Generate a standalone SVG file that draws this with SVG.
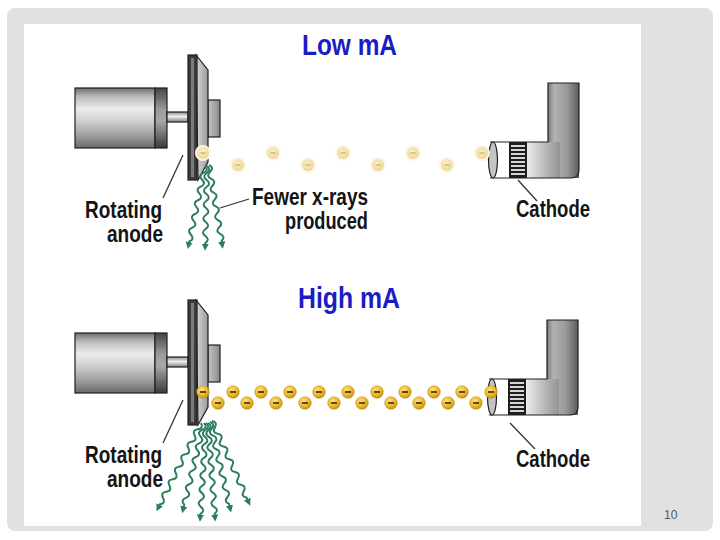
<svg xmlns="http://www.w3.org/2000/svg" xmlns:xlink="http://www.w3.org/1999/xlink" width="720" height="540" viewBox="0 0 720 540">
  <style>
    .lbl { font-family: "Liberation Sans", Arial, sans-serif; font-weight: bold; font-size: 23px; fill: #141414; }
    .ttl { font-family: "Liberation Sans", Arial, sans-serif; font-weight: bold; font-size: 30px; fill: #1c1cc4; }
    .pg { font-family: "Liberation Sans", Arial, sans-serif; font-size: 12px; fill: #555555; }
    .ptr { stroke: #333333; stroke-width: 1.3; fill: none; }
    .wave { stroke: #2b7d5e; stroke-width: 2; fill: none; marker-end: url(#ah); }
    .ol { stroke: #1e1e1e; stroke-width: 1.2; }
  </style>
  <defs>
    <linearGradient id="gMotor" x1="0" y1="0" x2="0" y2="1">
      <stop offset="0" stop-color="#6e6e6e"/>
      <stop offset="0.15" stop-color="#bdbdbd"/>
      <stop offset="0.35" stop-color="#ececec"/>
      <stop offset="0.55" stop-color="#cfcfcf"/>
      <stop offset="0.8" stop-color="#9c9c9c"/>
      <stop offset="1" stop-color="#6a6a6a"/>
    </linearGradient>
    <linearGradient id="gRing" x1="0" y1="0" x2="0" y2="1">
      <stop offset="0" stop-color="#444"/>
      <stop offset="0.35" stop-color="#9a9a9a"/>
      <stop offset="0.55" stop-color="#a8a8a8"/>
      <stop offset="1" stop-color="#3a3a3a"/>
    </linearGradient>
    <linearGradient id="gShaft" x1="0" y1="0" x2="0" y2="1">
      <stop offset="0" stop-color="#8a8a8a"/>
      <stop offset="0.45" stop-color="#eeeeee"/>
      <stop offset="1" stop-color="#808080"/>
    </linearGradient>
    <linearGradient id="gBevel" x1="0" y1="0" x2="1" y2="0">
      <stop offset="0" stop-color="#d8d8d8"/>
      <stop offset="1" stop-color="#9a9a9a"/>
    </linearGradient>
    <linearGradient id="gHub" x1="0" y1="0" x2="1" y2="0">
      <stop offset="0" stop-color="#c4c4c4"/>
      <stop offset="1" stop-color="#8a8a8a"/>
    </linearGradient>
    <linearGradient id="gArm" gradientUnits="userSpaceOnUse" x1="548" y1="0" x2="579" y2="0">
      <stop offset="0" stop-color="#7c7c7c"/>
      <stop offset="0.2" stop-color="#b2b2b2"/>
      <stop offset="0.6" stop-color="#9a9a9a"/>
      <stop offset="1" stop-color="#5c5c5c"/>
    </linearGradient>
    <linearGradient id="gTube" gradientUnits="userSpaceOnUse" x1="527" y1="0" x2="579" y2="0">
      <stop offset="0" stop-color="#ececec"/>
      <stop offset="0.4" stop-color="#b2b2b2"/>
      <stop offset="0.7" stop-color="#8c8c8c"/>
      <stop offset="1" stop-color="#5c5c5c"/>
    </linearGradient>
    <radialGradient id="gGold" cx="0.4" cy="0.35" r="0.7">
      <stop offset="0" stop-color="#ffe27a"/>
      <stop offset="0.6" stop-color="#e9b62c"/>
      <stop offset="1" stop-color="#b98a10"/>
    </radialGradient>
    <radialGradient id="gPale" cx="0.45" cy="0.4" r="0.7">
      <stop offset="0" stop-color="#fbf1c8"/>
      <stop offset="1" stop-color="#e9d28e"/>
    </radialGradient>
    <marker id="ah" viewBox="0 0 10 10" refX="6" refY="5" markerWidth="3.6" markerHeight="3.6" orient="auto" markerUnits="strokeWidth">
      <path d="M0,0 L10,5 L0,10 Z" fill="#2b7d5e"/>
    </marker>
    <g id="eHi">
      <circle r="6.3" fill="url(#gGold)" stroke="#c99a1c" stroke-width="0.6"/>
      <line x1="-3" y1="0" x2="3" y2="0" stroke="#3a2a00" stroke-width="1.6"/>
    </g>
    <g id="eLo">
      <circle r="8" fill="#fdf6e2"/>
      <circle r="6" fill="url(#gPale)"/>
      <line x1="-2.5" y1="0" x2="2.5" y2="0" stroke="#b8a468" stroke-width="1.1"/>
    </g>
    <path id="w84" d="M0,0 q5,3.5 0,7 t0,7 t0,7 t0,7 t0,7 t0,7 t0,7 t0,7 t0,7 t0,7 t0,7 l0,5"/>
    <path id="w90" d="M0,0 q5,3.5 0,7 t0,7 t0,7 t0,7 t0,7 t0,7 t0,7 t0,7 t0,7 t0,7 t0,7 t0,7 l0,6"/>
    <path id="w96" d="M0,0 q5,3.5 0,7 t0,7 t0,7 t0,7 t0,7 t0,7 t0,7 t0,7 t0,7 t0,7 t0,7 t0,7 t0,7 l0,5"/>
    <g id="anodeAsm">
      <rect x="75" y="88" width="80" height="60" fill="url(#gMotor)" class="ol"/>
      <rect x="155" y="88" width="12" height="60" fill="url(#gRing)" class="ol"/>
      <rect x="167" y="112" width="21" height="10" fill="url(#gShaft)" class="ol"/>
      <rect x="208" y="100" width="12" height="37" fill="url(#gHub)" class="ol"/>
      <polygon points="196,55 208,70 208,162 198,180" fill="url(#gBevel)" class="ol"/>
      <rect x="188" y="55" width="9" height="125" fill="#3c3c3c" class="ol"/>
      <rect x="191" y="58" width="3" height="119" fill="#7a7a7a"/>
    </g>
    <g id="cathodeAsm">
      <path d="M490,142 H548 V83 H579 V170 Q579,178 571,178 H490 Z" fill="url(#gArm)"/>
      <rect x="527" y="142" width="52" height="36" fill="url(#gTube)"/>
      <path d="M579,142 V170 Q579,178 571,178 H560 V142 Z" fill="url(#gArm)"/>
      <rect x="490" y="142" width="19" height="36" fill="#ffffff"/>
      <rect x="509" y="142" width="18" height="36" fill="#1e1e1e"/>
      <g fill="#d6d6d6">
        <rect x="511" y="145" width="14" height="2"/>
        <rect x="511" y="149" width="14" height="2"/>
        <rect x="511" y="153" width="14" height="2"/>
        <rect x="511" y="157" width="14" height="2"/>
        <rect x="511" y="161" width="14" height="2"/>
        <rect x="511" y="165" width="14" height="2"/>
        <rect x="511" y="169" width="14" height="2"/>
        <rect x="511" y="173" width="14" height="2"/>
      </g>
      <path d="M490,142 H548 V83 H579 V170 Q579,178 571,178 H490" fill="none" class="ol" stroke-width="1.5"/>
      <ellipse cx="493" cy="160" rx="4.5" ry="18" fill="#c4c4c4" class="ol"/>
    </g>
  </defs>

  <g id="frame">
    <rect x="0" y="0" width="720" height="540" fill="#ffffff"/>
    <rect x="7" y="8" width="706" height="523" rx="8" fill="#e1e1e1"/>
    <rect x="24" y="24" width="617" height="502" fill="#ffffff"/>
    <text class="pg" x="664" y="519">10</text>
  </g>

  <g id="low-mA">
    <text id="title-low" class="ttl" x="302" y="55" textLength="95" lengthAdjust="spacingAndGlyphs">Low mA</text>
    <g id="anode-low"><use xlink:href="#anodeAsm"/></g>
    <g id="cathode-low"><use xlink:href="#cathodeAsm"/></g>
    <g id="xrays-low">
      <use xlink:href="#w84" class="wave" transform="translate(205,166) rotate(11.7)"/>
      <use xlink:href="#w84" class="wave" transform="translate(207,166) rotate(1.3)"/>
      <use xlink:href="#w84" class="wave" transform="translate(209,165) rotate(-9.4)"/>
    </g>
    <g id="electrons-low">
      <use xlink:href="#eLo" x="203" y="153"/>
      <use xlink:href="#eLo" x="238" y="165"/>
      <use xlink:href="#eLo" x="273" y="153"/>
      <use xlink:href="#eLo" x="308" y="165"/>
      <use xlink:href="#eLo" x="343" y="153"/>
      <use xlink:href="#eLo" x="378" y="165"/>
      <use xlink:href="#eLo" x="413" y="153"/>
      <use xlink:href="#eLo" x="447" y="165"/>
      <use xlink:href="#eLo" x="482" y="153"/>
    </g>
    <g id="label-anode-low">
      <text class="lbl" x="85" y="218" textLength="77" lengthAdjust="spacingAndGlyphs">Rotating</text>
      <text class="lbl" x="107" y="242" textLength="56" lengthAdjust="spacingAndGlyphs">anode</text>
    </g>
    <g id="label-fewer">
      <text class="lbl" x="252" y="205" textLength="116" lengthAdjust="spacingAndGlyphs">Fewer x-rays</text>
      <text class="lbl" x="285" y="229" textLength="83" lengthAdjust="spacingAndGlyphs">produced</text>
    </g>
    <g id="label-cathode-low">
      <text class="lbl" x="516" y="217" textLength="74" lengthAdjust="spacingAndGlyphs">Cathode</text>
    </g>
  </g>

  <g id="high-mA">
    <text id="title-high" class="ttl" x="298" y="308" textLength="102" lengthAdjust="spacingAndGlyphs">High mA</text>
    <g id="anode-high"><use xlink:href="#anodeAsm" transform="translate(0,245)"/></g>
    <g id="cathode-high"><use xlink:href="#cathodeAsm" transform="translate(-1,237)"/></g>
    <g id="xrays-high">
      <use xlink:href="#w96" class="wave" transform="translate(201,423) rotate(26.8)"/>
      <use xlink:href="#w90" class="wave" transform="translate(204,423) rotate(13.6)"/>
      <use xlink:href="#w96" class="wave" transform="translate(206,423) rotate(3.5)"/>
      <use xlink:href="#w96" class="wave" transform="translate(208,423) rotate(-4.2)"/>
      <use xlink:href="#w90" class="wave" transform="translate(210,422) rotate(-13.1)"/>
      <use xlink:href="#w90" class="wave" transform="translate(212,421) rotate(-24.3)"/>
    </g>
    <g id="electrons-high">
      <use xlink:href="#eHi" x="203" y="392"/>
      <use xlink:href="#eHi" x="218" y="403"/>
      <use xlink:href="#eHi" x="233" y="392"/>
      <use xlink:href="#eHi" x="247" y="403"/>
      <use xlink:href="#eHi" x="261" y="392"/>
      <use xlink:href="#eHi" x="276" y="403"/>
      <use xlink:href="#eHi" x="290" y="392"/>
      <use xlink:href="#eHi" x="305" y="403"/>
      <use xlink:href="#eHi" x="319" y="392"/>
      <use xlink:href="#eHi" x="334" y="403"/>
      <use xlink:href="#eHi" x="348" y="392"/>
      <use xlink:href="#eHi" x="362" y="403"/>
      <use xlink:href="#eHi" x="377" y="392"/>
      <use xlink:href="#eHi" x="391" y="403"/>
      <use xlink:href="#eHi" x="405" y="392"/>
      <use xlink:href="#eHi" x="419" y="403"/>
      <use xlink:href="#eHi" x="434" y="392"/>
      <use xlink:href="#eHi" x="448" y="403"/>
      <use xlink:href="#eHi" x="462" y="392"/>
      <use xlink:href="#eHi" x="476" y="403"/>
      <use xlink:href="#eHi" x="491" y="392"/>
    </g>
    <g id="label-anode-high">
      <text class="lbl" x="85" y="463" textLength="77" lengthAdjust="spacingAndGlyphs">Rotating</text>
      <text class="lbl" x="107" y="487" textLength="56" lengthAdjust="spacingAndGlyphs">anode</text>
    </g>
    <g id="label-cathode-high">
      <text class="lbl" x="516" y="467" textLength="74" lengthAdjust="spacingAndGlyphs">Cathode</text>
    </g>
  </g>

  <g id="connectors">
    <line class="ptr" x1="163" y1="198" x2="183" y2="155"/>
    <line class="ptr" x1="220" y1="208" x2="249" y2="199"/>
    <line class="ptr" x1="518" y1="180" x2="537" y2="201"/>
    <line class="ptr" x1="163" y1="443" x2="183" y2="400"/>
    <line class="ptr" x1="510" y1="423" x2="535" y2="449"/>
  </g>
</svg>
